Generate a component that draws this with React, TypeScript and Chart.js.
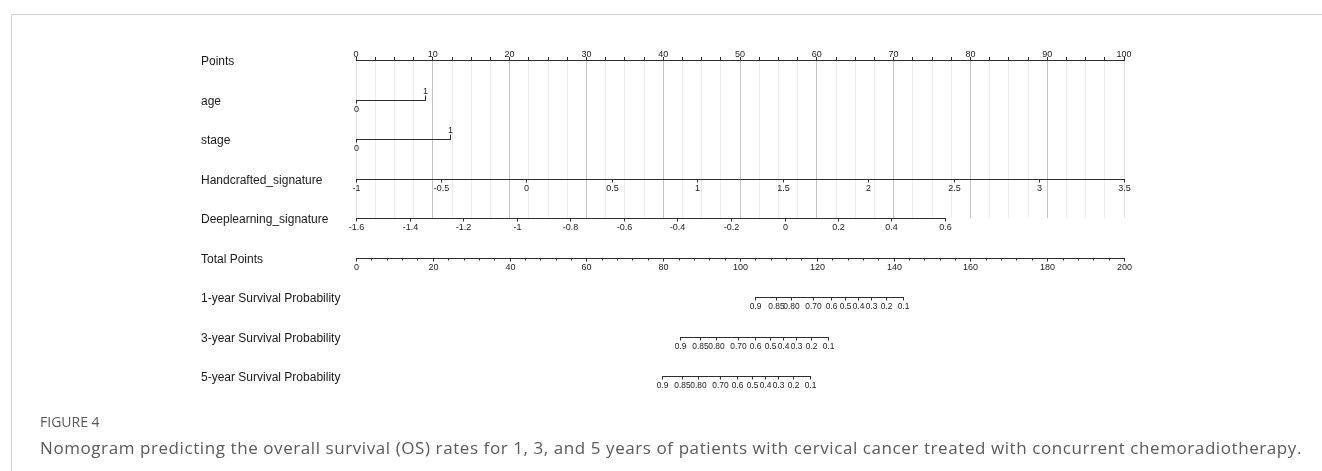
import React, { useEffect, useRef } from 'react';
import { Chart, registerables } from 'chart.js';

Chart.register(...registerables);

const WIDTH = 1322;
const HEIGHT = 471;

// Row captions, top to bottom
const rowLabels = [
  'Points',
  'age',
  'stage',
  'Handcrafted_signature',
  'Deeplearning_signature',
  'Total Points',
  '1-year Survival Probability',
  '3-year Survival Probability',
  '5-year Survival Probability',
];

// Points scale: 0-100, labelled every 10, minor marks every 2.5
const pointsMin = 0;
const pointsMax = 100;
const pointsStep = 2.5;
const pointsLabelEvery = 10;

// Binary predictors: level -> points
const ageLevels = ['0', '1'];
const agePoints = [0, 9.0];

const stageLevels = ['0', '1'];
const stagePoints = [0, 12.2];

// Continuous predictors: tick label -> points
const handcraftedLabels = ['-1', '-0.5', '0', '0.5', '1', '1.5', '2', '2.5', '3', '3.5'];
const handcraftedPoints = [0, 11.1, 22.2, 33.3, 44.4, 55.6, 66.7, 77.8, 88.9, 100];

const deeplearningLabels = ['-1.6', '-1.4', '-1.2', '-1', '-0.8', '-0.6', '-0.4', '-0.2', '0', '0.2', '0.4', '0.6'];
const deeplearningPoints = [0, 7.0, 13.9, 20.9, 27.9, 34.9, 41.8, 48.8, 55.8, 62.7, 69.7, 76.7];

// Total points scale
const totalPointsTicks = [0, 20, 40, 60, 80, 100, 120, 140, 160, 180, 200];
const totalPointsMinorStep = 4;

// Survival probability -> total points
const survivalLabels = ['0.9', '0.85', '0.80', '0.70', '0.6', '0.5', '0.4', '0.3', '0.2', '0.1'];
const survival1yTotal = [104.0, 109.3, 113.3, 119.0, 123.6, 127.3, 130.8, 134.2, 138.0, 142.5];
const survival3yTotal = [84.4, 89.7, 93.7, 99.5, 104.0, 107.8, 111.3, 114.7, 118.4, 122.8];
const survival5yTotal = [79.6, 85.0, 89.0, 94.8, 99.3, 103.1, 106.5, 110.0, 113.7, 118.1];

const FONT_FAMILY = '"Liberation Sans", Arial, Helvetica, sans-serif';
const AXIS_COLOR = '#2e2e2e';
const TEXT_COLOR = '#1a1a1a';
const TICK_TEXT_COLOR = '#202020';
const LABEL_X = 201;

const nomogramPlugin = {
  id: 'nomogramRows',
  afterDraw(chart: any) {
    const ctx: CanvasRenderingContext2D = chart.ctx;
    const xPts = chart.scales.x;
    const xTot = chart.scales.xTotal;
    const yRow = chart.scales.y;
    const rowY = (i: number) => Math.round(yRow.getPixelForValue(i)) + 0.5;
    const px = (scale: any, v: number) => Math.round(scale.getPixelForValue(v)) + 0.5;

    ctx.save();
    ctx.lineWidth = 1;
    ctx.strokeStyle = AXIS_COLOR;

    // row captions
    ctx.font = `12px ${FONT_FAMILY}`;
    ctx.fillStyle = TEXT_COLOR;
    ctx.textAlign = 'left';
    ctx.textBaseline = 'middle';
    rowLabels.forEach((t, i) => ctx.fillText(t, LABEL_X, rowY(i) + 1));

    const hLine = (x0: number, x1: number, y: number) => {
      ctx.beginPath();
      ctx.moveTo(x0 - 0.5, y);
      ctx.lineTo(x1 + 0.5, y);
      ctx.stroke();
    };
    const vTick = (x: number, y: number, len: number) => {
      ctx.beginPath();
      ctx.moveTo(x, y);
      ctx.lineTo(x, y + len);
      ctx.stroke();
    };
    const label = (t: string, x: number, y: number, size: number) => {
      ctx.font = `${size}px ${FONT_FAMILY}`;
      ctx.fillStyle = TICK_TEXT_COLOR;
      ctx.textAlign = 'center';
      ctx.textBaseline = 'middle';
      ctx.fillText(t, x, y);
    };

    // two-level predictors: first level below the line, second above
    const binaryRow = (row: number, pts: number[], levels: string[]) => {
      const y = rowY(row);
      const xs = pts.map((p) => px(xPts, p));
      hLine(xs[0], xs[1], y);
      vTick(xs[0], y, 3);
      label(levels[0], xs[0], y + 9.5, 9);
      vTick(xs[1], y, -5);
      label(levels[1], xs[1], y - 9, 9);
    };
    binaryRow(1, agePoints, ageLevels);
    binaryRow(2, stagePoints, stageLevels);

    const scaleRow = (row: number, scale: any, positions: number[], labels: string[], size: number) => {
      const y = rowY(row);
      const xs = positions.map((p) => px(scale, p));
      hLine(xs[0], xs[xs.length - 1], y);
      xs.forEach((x, i) => {
        vTick(x, y, 3);
        label(labels[i], x, y + 9.5, size);
      });
    };

    scaleRow(3, xPts, handcraftedPoints, handcraftedLabels, 9);
    scaleRow(4, xPts, deeplearningPoints, deeplearningLabels, 9);

    // total points with minor marks
    const yTotal = rowY(5);
    const lastTotal = totalPointsTicks[totalPointsTicks.length - 1];
    for (let v = totalPointsTicks[0]; v <= lastTotal; v += totalPointsMinorStep) {
      vTick(px(xTot, v), yTotal, 2);
    }
    scaleRow(5, xTot, totalPointsTicks, totalPointsTicks.map(String), 9);

    scaleRow(6, xTot, survival1yTotal, survivalLabels, 8.4);
    scaleRow(7, xTot, survival3yTotal, survivalLabels, 8.4);
    scaleRow(8, xTot, survival5yTotal, survivalLabels, 8.4);

    ctx.restore();
  },
};

function Nomogram() {
  const canvasRef = useRef<HTMLCanvasElement | null>(null);

  useEffect(() => {
    if (!canvasRef.current) return;
    const chart = new Chart(canvasRef.current, {
      type: 'line',
      data: { datasets: [] },
      options: {
        animation: false,
        responsive: false,
        devicePixelRatio: 1,
        events: [],
        layout: { padding: { left: 356, right: WIDTH - 1124, top: 44, bottom: HEIGHT - 218 } },
        plugins: { legend: { display: false }, tooltip: { enabled: false }, title: { display: false } },
        scales: {
          x: {
            type: 'linear',
            position: 'top',
            min: pointsMin,
            max: pointsMax,
            afterFit: (s: any) => {
              s.height = 16;
            },
            border: { display: true, color: AXIS_COLOR, width: 1 },
            grid: {
              drawOnChartArea: true,
              drawTicks: true,
              tickLength: 3,
              tickColor: AXIS_COLOR,
              lineWidth: 1,
              color: (c: any) => {
                const v = c.tick ? c.tick.value : 0;
                if (v === pointsMin || v === pointsMax) return '#e2e2e2';
                return v % pointsLabelEvery === 0 ? '#c4c4c4' : '#ececec';
              },
            },
            ticks: {
              stepSize: pointsStep,
              autoSkip: false,
              maxRotation: 0,
              minRotation: 0,
              padding: -2,
              color: TICK_TEXT_COLOR,
              font: { family: FONT_FAMILY, size: 9, lineHeight: 1 },
              callback: (v: any) => (Number(v) % pointsLabelEvery === 0 ? String(v) : ''),
            },
          },
          xTotal: {
            type: 'linear',
            axis: 'x',
            display: false,
            min: totalPointsTicks[0],
            max: totalPointsTicks[totalPointsTicks.length - 1],
          },
          y: { type: 'linear', display: false, min: 0, max: 4, reverse: true },
        },
      } as any,
      plugins: [nomogramPlugin],
    });
    return () => chart.destroy();
  }, []);

  return <canvas ref={canvasRef} width={WIDTH} height={HEIGHT} style={{ position: 'absolute', left: 0, top: 0 }} />;
}

export default function App() {
  return (
    <div
      style={{
        position: 'fixed',
        left: 0,
        top: 0,
        width: WIDTH,
        height: HEIGHT,
        background: '#ffffff',
        overflow: 'hidden',
      }}
    >
      <div style={{ position: 'absolute', left: 11, top: 14, right: 0, height: 1, background: '#d2d2d2' }} />
      <div style={{ position: 'absolute', left: 11, top: 14, width: 1, bottom: 0, background: '#d2d2d2' }} />
      <Nomogram />
      <div
        style={{
          position: 'absolute',
          left: 40,
          top: 412,
          fontFamily: '"Open Sans", sans-serif',
          fontSize: 14,
          lineHeight: '19px',
          color: '#5a5a5a',
          whiteSpace: 'nowrap',
        }}
      >
        FIGURE 4
      </div>
      <div
        style={{
          position: 'absolute',
          left: 40,
          top: 436,
          fontFamily: '"Open Sans", sans-serif',
          fontSize: 17,
          letterSpacing: '0.58px',
          lineHeight: '23px',
          color: '#5a5a5a',
          whiteSpace: 'nowrap',
        }}
      >
        Nomogram predicting the overall survival (OS) rates for 1, 3, and 5 years of patients with cervical cancer treated with concurrent chemoradiotherapy.
      </div>
    </div>
  );
}
